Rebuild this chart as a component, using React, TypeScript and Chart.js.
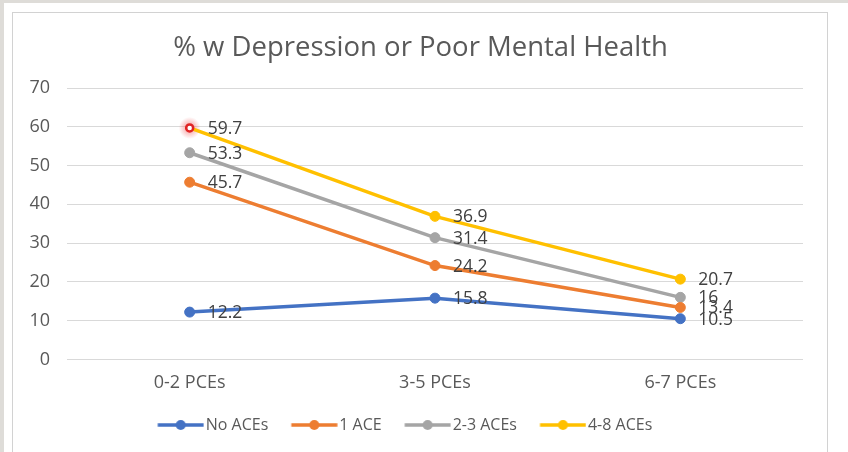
import React, { useEffect, useRef } from 'react';
import { Chart, registerables } from 'chart.js';

Chart.register(...registerables);

const chartTitle = '% w Depression or Poor Mental Health';
const categories = ['0-2 PCEs', '3-5 PCEs', '6-7 PCEs'];
const seriesNames = ['No ACEs', '1 ACE', '2-3 ACEs', '4-8 ACEs'];
const noAces = [12.2, 15.8, 10.5];
const oneAce = [45.7, 24.2, 13.4];
const twoThreeAces = [53.3, 31.4, 16];
const fourEightAces = [59.7, 36.9, 20.7];
const yMin = 0;
const yMax = 70;
const yStep = 10;
const seriesColors = ['#4472C4', '#ED7D31', '#A5A5A5', '#FFC000'];
const highlightColor = '#E02424';

function legendSwatch(color: string) {
  const c = document.createElement('canvas');
  c.width = 66;
  c.height = 12;
  const ctx = c.getContext('2d')!;
  ctx.strokeStyle = color;
  ctx.lineWidth = 3.5;
  ctx.lineCap = 'butt';
  ctx.beginPath();
  ctx.moveTo(19.5, 6);
  ctx.lineTo(65.5, 6);
  ctx.stroke();
  ctx.fillStyle = color;
  ctx.beginPath();
  ctx.arc(42.5, 6, 5, 0, Math.PI * 2);
  ctx.fill();
  return c;
}

const dataLabelsPlugin = {
  id: 'dataLabels',
  afterDatasetsDraw(chart: any) {
    const ctx = chart.ctx;
    ctx.save();
    ctx.font = '17.5px "Open Sans", sans-serif';
    ctx.fillStyle = '#404040';
    ctx.textBaseline = 'middle';
    ctx.textAlign = 'left';
    chart.data.datasets.forEach((ds: any, i: number) => {
      const meta = chart.getDatasetMeta(i);
      meta.data.forEach((pt: any, j: number) => {
        ctx.fillText(String(ds.data[j]), pt.x + 18, pt.y + 1);
      });
    });
    ctx.restore();
  },
};

const glowPlugin = {
  id: 'glow',
  beforeDatasetsDraw(chart: any) {
    const meta = chart.getDatasetMeta(3);
    const pt = meta && meta.data[0];
    if (!pt) return;
    const ctx = chart.ctx;
    ctx.save();
    const g = ctx.createRadialGradient(pt.x, pt.y, 2, pt.x, pt.y, 11);
    g.addColorStop(0, 'rgba(240,90,90,0.55)');
    g.addColorStop(1, 'rgba(240,90,90,0)');
    ctx.fillStyle = g;
    ctx.beginPath();
    ctx.arc(pt.x, pt.y, 11, 0, Math.PI * 2);
    ctx.fill();
    ctx.restore();
  },
};

const blockShiftPlugin = {
  id: 'blockShift',
  afterLayout(chart: any) {
    const lg = chart.legend;
    if (lg) {
      lg.left -= 3;
      lg.right -= 3;
    }
    const tb = chart.titleBlock;
    if (tb) {
      tb.left += 19;
      tb.right += 19;
    }
  },
};

export default function App() {
  const ref = useRef<HTMLCanvasElement>(null);

  useEffect(() => {
    document.body.style.margin = '0';
    Chart.defaults.font.family = '"Open Sans", sans-serif';
    const seriesData = [noAces, oneAce, twoThreeAces, fourEightAces];
    const datasets = seriesData.map((d, i) => {
      const color = seriesColors[i];
      const isHighlighted = i === 3;
      return {
        label: seriesNames[i],
        data: d,
        borderColor: color,
        backgroundColor: color,
        borderWidth: 3.5,
        tension: 0,
        pointRadius: isHighlighted ? d.map((_, j) => (j === 0 ? 3.5 : 5)) : 5,
        pointBorderWidth: isHighlighted ? d.map((_, j) => (j === 0 ? 2.5 : 1)) : 1,
        pointBackgroundColor: isHighlighted ? d.map((_, j) => (j === 0 ? '#FFFFFF' : color)) : color,
        pointBorderColor: isHighlighted ? d.map((_, j) => (j === 0 ? highlightColor : color)) : color,
      };
    });

    const chart = new Chart(ref.current!, {
      type: 'line',
      data: { labels: categories, datasets },
      plugins: [glowPlugin, dataLabelsPlugin, blockShiftPlugin],
      options: {
        responsive: false,
        animation: false,
        layout: { padding: { left: 0, right: 45, top: 0, bottom: 9 } },
        plugins: {
          title: {
            display: true,
            text: chartTitle,
            color: '#595959',
            font: { size: 27.5, weight: 'normal' },
            padding: { top: 32, bottom: 23 },
          },
          tooltip: { enabled: false },
          legend: {
            display: true,
            position: 'bottom',
            labels: {
              usePointStyle: true,
              pointStyleWidth: 53,
              padding: 10,
              color: '#595959',
              font: { size: 16 },
              generateLabels: (ch: any) =>
                ch.data.datasets.map((ds: any, i: number) => ({
                  text: ds.label,
                  pointStyle: legendSwatch(seriesColors[i]),
                  fillStyle: seriesColors[i],
                  strokeStyle: seriesColors[i],
                  lineWidth: 0,
                  fontColor: '#595959',
                  hidden: false,
                  datasetIndex: i,
                })),
            },
          },
        },
        scales: {
          x: {
            offset: true,
            grid: { display: false, drawTicks: false },
            border: { display: false },
            ticks: { color: '#595959', font: { size: 18 }, padding: 13 },
          },
          y: {
            min: yMin,
            max: yMax,
            grid: { color: '#D9D9D9', lineWidth: 1, drawTicks: false },
            border: { display: false },
            ticks: { stepSize: yStep, color: '#595959', font: { size: 18 }, padding: 17 },
            afterFit: (scale: any) => {
              scale.width = 67;
            },
          },
        },
      } as any,
    });
    return () => chart.destroy();
  }, []);

  return (
    <div style={{ position: 'fixed', left: 0, top: 0, width: 848, height: 452, background: '#FFFFFF', overflow: 'hidden' }}>
      <div style={{ position: 'absolute', left: 0, top: 0, width: 848, height: 3, background: '#DEDCD8' }} />
      <div style={{ position: 'absolute', left: 0, top: 0, width: 4, height: 452, background: '#DEDCD8' }} />
      <div style={{ position: 'absolute', left: 12, top: 12, width: 816, height: 470, border: '1px solid #D2D2D2', boxSizing: 'border-box' }} />
      <canvas ref={ref} width={848} height={452} style={{ position: 'absolute', left: 0, top: 0, display: 'block' }} />
    </div>
  );
}
